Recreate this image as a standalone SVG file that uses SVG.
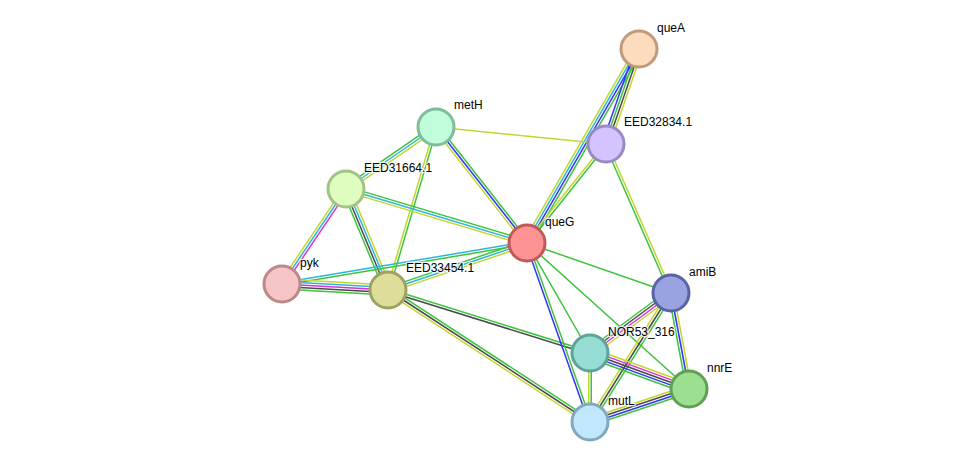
<svg xmlns="http://www.w3.org/2000/svg" width="975" height="468" viewBox="0 0 975 468">
<style>
.e line{stroke-width:1.5;fill:none}
.yg{stroke:#c3d630}.gr{stroke:#3cc43c}.bl{stroke:#3434f5}.cy{stroke:#2fb5da}.mg{stroke:#d634d6}.dk{stroke:#4a4a4a}
.n circle{stroke-width:3}
.n text{font-family:"Liberation Sans",Arial,sans-serif;font-size:12px;fill:#000;stroke:#fff;stroke-width:2.5;stroke-opacity:0.8;paint-order:stroke;stroke-linejoin:round}
</style>
<rect width="975" height="468" fill="#fff"/>
<g id="connectors" class="e">
<line class="gr" x1="642.25" y1="50.88" x2="530.25" y2="244.88"/>
<line class="bl" x1="640.08" y1="49.63" x2="528.08" y2="243.63"/>
<line class="cy" x1="637.92" y1="48.37" x2="525.92" y2="242.37"/>
<line class="yg" x1="635.75" y1="47.12" x2="523.75" y2="241.12"/>
<line class="bl" x1="635.46" y1="47.77" x2="602.46" y2="142.77"/>
<line class="gr" x1="637.82" y1="48.59" x2="604.82" y2="143.59"/>
<line class="dk" x1="640.18" y1="49.41" x2="607.18" y2="144.41"/>
<line class="yg" x1="642.54" y1="50.23" x2="609.54" y2="145.23"/>
<line class="yg" x1="605.02" y1="143.22" x2="526.02" y2="242.22"/>
<line class="gr" x1="606.98" y1="144.78" x2="527.98" y2="243.78"/>
<line class="yg" x1="436" y1="127" x2="606" y2="144"/>
<line class="yg" x1="437.42" y1="129.06" x2="347.42" y2="191.06"/>
<line class="cy" x1="436" y1="127" x2="346" y2="189"/>
<line class="gr" x1="434.58" y1="124.94" x2="344.58" y2="186.94"/>
<line class="yg" x1="434.8" y1="126.65" x2="386.8" y2="289.65"/>
<line class="gr" x1="437.2" y1="127.35" x2="389.2" y2="290.35"/>
<line class="yg" x1="434.03" y1="128.54" x2="525.03" y2="244.54"/>
<line class="bl" x1="436" y1="127" x2="527" y2="243"/>
<line class="gr" x1="437.97" y1="125.46" x2="528.97" y2="241.46"/>
<line class="gr" x1="346.71" y1="186.6" x2="527.71" y2="240.6"/>
<line class="cy" x1="346" y1="189" x2="527" y2="243"/>
<line class="yg" x1="345.29" y1="191.4" x2="526.29" y2="245.4"/>
<line class="yg" x1="343.93" y1="187.6" x2="279.93" y2="282.6"/>
<line class="cy" x1="346" y1="189" x2="282" y2="284"/>
<line class="mg" x1="348.07" y1="190.4" x2="284.07" y2="285.4"/>
<line class="gr" x1="342.54" y1="190.44" x2="384.54" y2="291.44"/>
<line class="dk" x1="344.85" y1="189.48" x2="386.85" y2="290.48"/>
<line class="cy" x1="347.15" y1="188.52" x2="389.15" y2="289.52"/>
<line class="yg" x1="349.46" y1="187.56" x2="391.46" y2="288.56"/>
<line class="cy" x1="281.79" y1="282.77" x2="526.79" y2="241.77"/>
<line class="gr" x1="282.21" y1="285.23" x2="527.21" y2="244.23"/>
<line class="yg" x1="282.28" y1="279" x2="388.28" y2="285"/>
<line class="cy" x1="282.14" y1="281.5" x2="388.14" y2="287.5"/>
<line class="mg" x1="282" y1="284" x2="388" y2="290"/>
<line class="dk" x1="281.86" y1="286.5" x2="387.86" y2="292.5"/>
<line class="gr" x1="281.72" y1="289" x2="387.72" y2="295"/>
<line class="gr" x1="387.2" y1="287.63" x2="526.2" y2="240.63"/>
<line class="cy" x1="388" y1="290" x2="527" y2="243"/>
<line class="yg" x1="388.8" y1="292.37" x2="527.8" y2="245.37"/>
<line class="gr" x1="388.37" y1="288.81" x2="590.37" y2="351.81"/>
<line class="dk" x1="387.63" y1="291.19" x2="589.63" y2="354.19"/>
<line class="gr" x1="389.37" y1="287.91" x2="591.37" y2="419.91"/>
<line class="dk" x1="388" y1="290" x2="590" y2="422"/>
<line class="yg" x1="386.63" y1="292.09" x2="588.63" y2="424.09"/>
<line class="bl" x1="525.82" y1="243.41" x2="588.82" y2="422.41"/>
<line class="gr" x1="528.18" y1="242.59" x2="591.18" y2="421.59"/>
<line class="gr" x1="527" y1="243" x2="590" y2="353"/>
<line class="gr" x1="527" y1="243" x2="671" y2="293"/>
<line class="gr" x1="527" y1="243" x2="689" y2="389"/>
<line class="gr" x1="604.85" y1="144.5" x2="669.85" y2="293.5"/>
<line class="yg" x1="607.15" y1="143.5" x2="672.15" y2="292.5"/>
<line class="gr" x1="668.77" y1="289.99" x2="587.77" y2="349.99"/>
<line class="dk" x1="670.26" y1="292" x2="589.26" y2="352"/>
<line class="mg" x1="671.74" y1="294" x2="590.74" y2="354"/>
<line class="yg" x1="673.23" y1="296.01" x2="592.23" y2="356.01"/>
<line class="gr" x1="668.54" y1="293.46" x2="686.54" y2="389.46"/>
<line class="bl" x1="671" y1="293" x2="689" y2="389"/>
<line class="yg" x1="673.46" y1="292.54" x2="691.46" y2="388.54"/>
<line class="yg" x1="668.88" y1="291.67" x2="587.88" y2="420.67"/>
<line class="dk" x1="671" y1="293" x2="590" y2="422"/>
<line class="gr" x1="673.12" y1="294.33" x2="592.12" y2="423.33"/>
<line class="yg" x1="591.71" y1="348.3" x2="690.71" y2="384.3"/>
<line class="mg" x1="590.86" y1="350.65" x2="689.86" y2="386.65"/>
<line class="dk" x1="590" y1="353" x2="689" y2="389"/>
<line class="bl" x1="589.15" y1="355.35" x2="688.15" y2="391.35"/>
<line class="gr" x1="588.29" y1="357.7" x2="687.29" y2="393.7"/>
<line class="yg" x1="588.75" y1="353" x2="588.75" y2="422"/>
<line class="gr" x1="591.25" y1="353" x2="591.25" y2="422"/>
<line class="yg" x1="588.81" y1="418.44" x2="687.81" y2="385.44"/>
<line class="dk" x1="589.6" y1="420.81" x2="688.6" y2="387.81"/>
<line class="bl" x1="590.4" y1="423.19" x2="689.4" y2="390.19"/>
<line class="gr" x1="591.19" y1="425.56" x2="690.19" y2="392.56"/>
</g>
<g id="queA" class="n"><circle cx="639" cy="49" r="18" fill="#fddcbd" stroke="#c09a7c"/><text x="657" y="32">queA</text></g>
<g id="EED32834.1" class="n"><circle cx="606" cy="144" r="18" fill="#d3c3ff" stroke="#9a8ac4"/><text x="624" y="126">EED32834.1</text></g>
<g id="metH" class="n"><circle cx="436" cy="127" r="18" fill="#c0fddb" stroke="#7fbd9a"/><text x="454" y="109">metH</text></g>
<g id="EED31664.1" class="n"><circle cx="346" cy="189" r="18" fill="#defdbf" stroke="#a3c286"/><text x="364" y="172">EED31664.1</text></g>
<g id="queG" class="n"><circle cx="527" cy="243" r="18" fill="#fe9393" stroke="#c05a5a"/><text x="545" y="226">queG</text></g>
<g id="pyk" class="n"><circle cx="282" cy="284" r="18" fill="#f6c5c5" stroke="#bb8989"/><text x="300" y="267">pyk</text></g>
<g id="EED33454.1" class="n"><circle cx="388" cy="290" r="18" fill="#dede9b" stroke="#a0a060"/><text x="406" y="272">EED33454.1</text></g>
<g id="amiB" class="n"><circle cx="671" cy="293" r="18" fill="#9aa3e0" stroke="#5a63a3"/><text x="689" y="276">amiB</text></g>
<g id="NOR53_316" class="n"><circle cx="590" cy="353" r="18" fill="#96ded5" stroke="#5ca49a"/><text x="608" y="336">NOR53_316</text></g>
<g id="nnrE" class="n"><circle cx="689" cy="389" r="18" fill="#9ddf91" stroke="#60a055"/><text x="707" y="372">nnrE</text></g>
<g id="mutL" class="n"><circle cx="590" cy="422" r="18" fill="#c0e7fb" stroke="#80a9c0"/><text x="608" y="405">mutL</text></g>
</svg>
